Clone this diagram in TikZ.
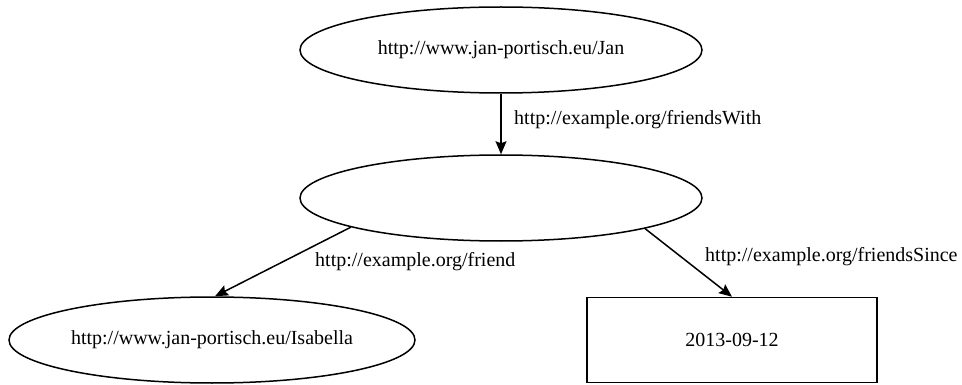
\documentclass[tikz,border=0pt]{standalone}
\usepackage{fontspec}
\setmainfont{Liberation Serif}
\usetikzlibrary{shapes.geometric,arrows.meta}

\begin{document}
\begin{tikzpicture}[x=1pt,y=-1pt,
  every node/.style={font=\fontsize{20}{24}\selectfont, inner sep=0pt},
  res/.style={ellipse, draw, line width=1.5pt, minimum width=402pt, minimum height=86pt},
  lit/.style={rectangle, draw, line width=1.5pt, minimum width=290pt, minimum height=85pt},
  edge/.style={line width=1.5pt, -{Stealth[length=13pt,width=11pt,inset=2pt]}},
  elabel/.style={anchor=west}
]
\useasboundingbox (0,0) rectangle (962,385);

% resources and literal
\node[res] (jan) at (501,50) {http://www.jan-portisch.eu/Jan};
\node[res] (blank) at (501,198) {};
\node[res, minimum width=406pt] (isa) at (212,340) {http://www.jan-portisch.eu/Isabella};
\node[lit] (date) at (732,340) {2013-09-12};

% edges
\draw[edge] (jan) -- (blank);
\draw[edge] (blank.191) -- (isa.86);
\draw[edge] (blank.-12) -- (date.north);

% edge labels
\node[elabel] (lw) at (514,120) {http://example.org/friendsWith};
\node[elabel] (lf) at (315,262) {http://example.org/friend};
\node[elabel] (ls) at (705,257) {http://example.org/friendsSince};
\end{tikzpicture}
\end{document}
